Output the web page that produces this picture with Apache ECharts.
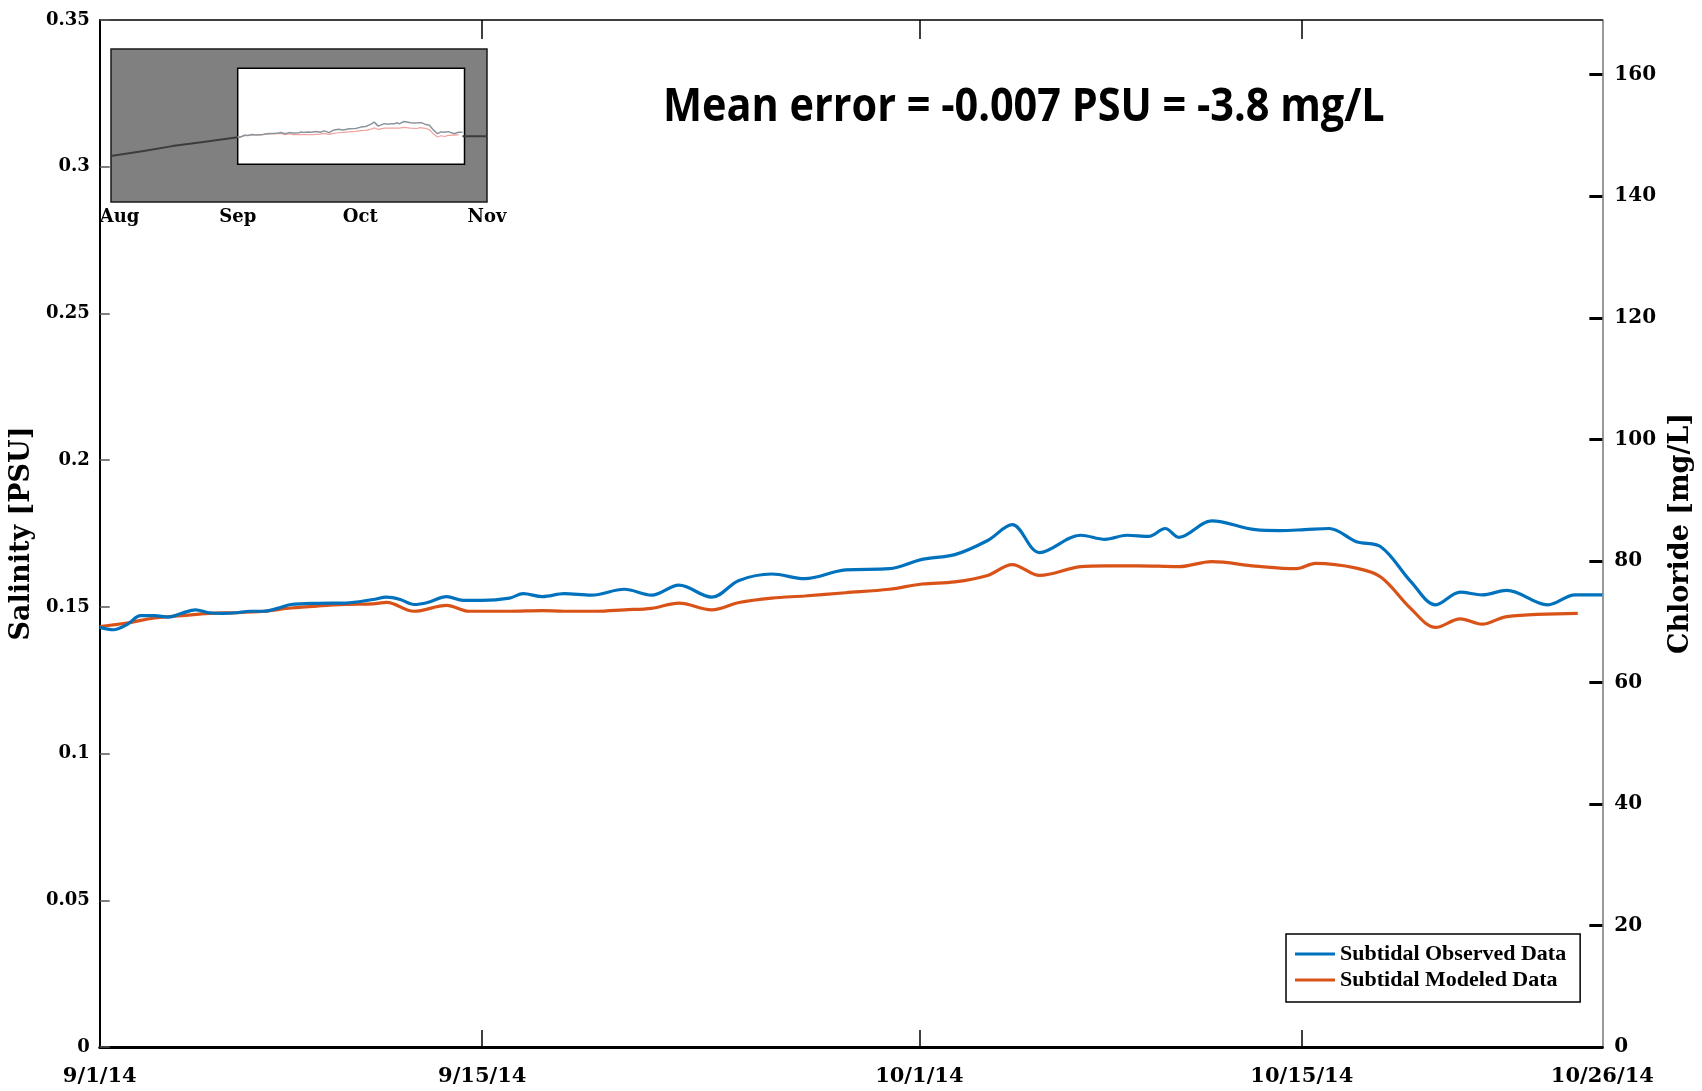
<!DOCTYPE html>
<html>
<head>
<meta charset="utf-8">
<script src="https://cdn.jsdelivr.net/npm/echarts@6/dist/echarts.min.js"></script>
<style>
  html, body { margin: 0; padding: 0; background: #fff; }
  #main { width: 1702px; height: 1091px; }
</style>
</head>
<body>
<div id="main"></div>
<script>
// days since 9/1/14
var xTickDays = [0, 14, 30, 44, 55];
var xTickLabels = ['9/1/14', '9/15/14', '10/1/14', '10/15/14', '10/26/14'];
var chlorideTicks = [0, 20, 40, 60, 80, 100, 120, 140, 160];

// subtidal observed salinity (PSU)
var obsDays = [0, 0.5, 1, 1.5, 2, 2.5, 3, 3.5, 4, 4.5, 5, 5.5, 6, 6.5, 7, 8, 9, 10, 10.5, 11, 11.5, 12, 12.7, 13.3, 14,
  15, 15.5, 16.2, 17, 18, 19.2, 20.2, 21.2, 22.4, 23.4, 24.6, 25.8, 27.3, 28.9, 30.1, 31.3, 32.5, 33.4, 34.4, 35.9,
  36.8, 37.6, 38.4, 39, 39.5, 40.7, 42.3, 43.2, 44.1, 45, 46, 46.9, 48, 48.9, 49.8, 50.6, 51.5, 53, 54, 55];
var obsSalinity = [0.1430, 0.1422, 0.1440, 0.1470, 0.1470, 0.1465, 0.1478, 0.1490, 0.1480, 0.1478, 0.1480, 0.1485,
  0.1485, 0.1495, 0.1508, 0.1512, 0.1513, 0.1525, 0.1533, 0.1525, 0.1508, 0.1515, 0.1535, 0.1522, 0.1522,
  0.1530, 0.1545, 0.1535, 0.1545, 0.1540, 0.1560, 0.1540, 0.1574, 0.1533, 0.1590, 0.1612, 0.1596, 0.1626, 0.1630,
  0.1662, 0.1678, 0.1726, 0.1780, 0.1685, 0.1744, 0.1730, 0.1744, 0.1740, 0.1767, 0.1737, 0.1793, 0.1763, 0.1760,
  0.1763, 0.1767, 0.1722, 0.1704, 0.1585, 0.1507, 0.1550, 0.1541, 0.1556, 0.1507, 0.1541, 0.1541];

// subtidal modeled salinity (PSU)
var modDays = [0, 1, 2, 3, 4, 5, 6, 7, 8, 9, 10, 10.5, 11.5, 12.7, 13.5, 15, 16.2, 17, 18.2, 19.2, 20.2, 21.2, 22.4,
  23.4, 24.6, 25.8, 27.3, 28.9, 30.1, 31.3, 32.5, 33.4, 34.4, 35.9, 36.8, 38, 39.5, 40.7, 42.3, 43.8, 44.5, 46, 46.9,
  48, 48.9, 49.8, 50.6, 51.5, 54.1];
var modSalinity = [0.1433, 0.1445, 0.1462, 0.1470, 0.1478, 0.1480, 0.1485, 0.1496, 0.1503, 0.1508, 0.1510, 0.1515,
  0.1485, 0.1505, 0.1485, 0.1485, 0.1487, 0.1485, 0.1485, 0.1490, 0.1495, 0.1513, 0.1490, 0.1515, 0.1530, 0.1537,
  0.1548, 0.1560, 0.1578, 0.1585, 0.1607, 0.1644, 0.1607, 0.1637, 0.1640, 0.1640, 0.1637, 0.1654, 0.1639, 0.1630,
  0.1648, 0.1632, 0.1601, 0.1493, 0.1430, 0.1459, 0.1441, 0.1467, 0.1478];

// inset: days since 8/1/14
var insetTickDays = [0, 31, 61, 92];
var insetTickLabels = ['Aug', 'Sep', 'Oct', 'Nov'];
var insetLongDays = [0, 8, 15, 23, 31, null, 86, 92];
var insetLongSalinity = [0.098, 0.110, 0.1215, 0.132, 0.1426, null, 0.145, 0.145];
var insetOffset = 31;
var zoomBox = [[31, 0.079], [86.5, 0.305]];

var serif = 'DejaVu Serif';

function pairs(xs, ys, off) {
  return xs.map(function (x, i) {
    if (x === null) return [null, null];
    return [x + (off || 0), ys[i]];
  });
}

var myChart = echarts.init(document.getElementById('main'));
var option = {
  animation: false,
  backgroundColor: '#fff',
  grid: [
    { left: 98, right: 98, top: 20, bottom: 44 },
    { left: 111, top: 49, width: 376, height: 153, show: true, backgroundColor: '#808080',
      borderColor: '#1a1a1a', borderWidth: 1.5 }
  ],
  xAxis: [
    {
      type: 'value', gridIndex: 0, position: 'bottom', min: 0, max: 55,
      axisLine: { onZero: false, lineStyle: { color: '#000', width: 3 } },
      axisTick: { inside: true, length: 17, customValues: [14, 30, 44], lineStyle: { color: '#000', width: 1.5 } },
      axisLabel: {
        customValues: xTickDays, margin: 19,
        fontFamily: serif, fontWeight: 'bold', fontSize: 21, color: '#000',
        formatter: function (v) { return xTickLabels[xTickDays.indexOf(v)]; }
      },
      splitLine: { show: false }
    },
    {
      type: 'value', gridIndex: 0, position: 'top', min: 0, max: 55,
      axisLine: { onZero: false, lineStyle: { color: '#000', width: 1.5 } },
      axisTick: { inside: true, length: 19, customValues: [14, 30, 44], lineStyle: { color: '#000', width: 1.5 } },
      axisLabel: { show: false },
      splitLine: { show: false }
    },
    {
      type: 'value', gridIndex: 1, min: 0, max: 92,
      axisLine: { show: false, onZero: false },
      axisTick: { show: false },
      axisLabel: {
        customValues: insetTickDays, margin: 6,
        fontFamily: serif, fontWeight: 'bold', fontSize: 18, color: '#000',
        formatter: function (v) {
          var t = insetTickLabels[insetTickDays.indexOf(v)];
          return v === 0 ? '{first|' + t + '}' : t;
        },
        rich: { first: { padding: [0, 0, 0, 17], fontFamily: serif, fontWeight: 'bold', fontSize: 18, color: '#000' } }
      },
      splitLine: { show: false }
    }
  ],
  yAxis: [
    {
      type: 'value', gridIndex: 0, position: 'left', min: 0, max: 0.35, interval: 0.05,
      name: 'Salinity [PSU]', nameLocation: 'middle', nameRotate: 90, nameGap: 53,
      nameTextStyle: { fontFamily: serif, fontWeight: 'bold', fontSize: 27, color: '#000' },
      axisLine: { show: true, onZero: false, lineStyle: { color: '#000', width: 2 } },
      axisTick: { show: true, inside: true, length: 10, lineStyle: { color: '#555', width: 1.5 } },
      axisLabel: { margin: 10, fontFamily: serif, fontWeight: 'bold', fontSize: 18, color: '#000' },
      splitLine: { show: false }
    },
    {
      type: 'value', gridIndex: 0, position: 'right', min: 0, max: 169,
      name: 'Chloride [mg/L]', nameLocation: 'middle', nameRotate: 90, nameGap: 62,
      nameTextStyle: { fontFamily: serif, fontWeight: 'bold', fontSize: 27, color: '#000' },
      axisLine: { show: true, onZero: false, lineStyle: { color: '#777', width: 1.5 } },
      axisTick: { show: true, inside: true, length: 13, customValues: chlorideTicks, lineStyle: { color: '#000', width: 3 } },
      axisLabel: { margin: 12, customValues: chlorideTicks, fontFamily: serif, fontWeight: 'bold', fontSize: 20, color: '#000' },
      splitLine: { show: false }
    },
    {
      type: 'value', gridIndex: 1, min: -0.01, max: 0.35, show: false,
      axisLine: { onZero: false }
    }
  ],
  legend: {
    orient: 'vertical', left: 1286, top: 934,
    backgroundColor: '#fff', borderColor: '#000', borderWidth: 1.5,
    padding: [9, 14, 11, 9], itemGap: 4, itemWidth: 40, itemHeight: 3, icon: 'rect',
    textStyle: { fontFamily: 'Liberation Serif', fontWeight: 'bold', fontSize: 22, lineHeight: 22, color: '#000' },
    data: ['Subtidal Observed Data', 'Subtidal Modeled Data']
  },
  graphic: [
    {
      type: 'text', x: 663, y: 108, scaleX: 0.9, z: 10,
      style: {
        text: 'Mean error = -0.007 PSU = -3.8 mg/L',
        font: 'bold 46px "Open Sans"', fill: '#000', textVerticalAlign: 'middle'
      }
    }
  ],
  series: [
    {
      name: 'Subtidal Observed Data', type: 'line', xAxisIndex: 0, yAxisIndex: 0,
      data: pairs(obsDays, obsSalinity), showSymbol: false, smooth: 0.35,
      color: '#0072BD', lineStyle: { width: 3.2, color: '#0072BD' }, z: 3
    },
    {
      name: 'Subtidal Modeled Data', type: 'line', xAxisIndex: 0, yAxisIndex: 0,
      data: pairs(modDays, modSalinity), showSymbol: false, smooth: 0.35,
      color: '#D95319', lineStyle: { width: 3.2, color: '#D95319' }, z: 2
    },
    {
      type: 'line', xAxisIndex: 2, yAxisIndex: 2, data: pairs(insetLongDays, insetLongSalinity),
      showSymbol: false, connectNulls: false, lineStyle: { width: 2, color: '#3c3c3c' }, z: 7, silent: true,
      markArea: {
        silent: true, z: 6,
        itemStyle: { color: '#fff', borderColor: '#000', borderWidth: 1.5, opacity: 1 },
        data: [[{ xAxis: zoomBox[0][0], yAxis: zoomBox[0][1] }, { xAxis: zoomBox[1][0], yAxis: zoomBox[1][1] }]]
      }
    },
    {
      type: 'line', xAxisIndex: 2, yAxisIndex: 2, data: pairs(modDays, modSalinity, insetOffset),
      showSymbol: false, lineStyle: { width: 1.2, color: '#f2a3a0' }, z: 8, silent: true
    },
    {
      type: 'line', xAxisIndex: 2, yAxisIndex: 2, data: pairs(obsDays, obsSalinity, insetOffset),
      showSymbol: false, lineStyle: { width: 1.5, color: '#8c959c' }, z: 9, silent: true
    }
  ]
};
myChart.setOption(option);
</script>
</body>
</html>
